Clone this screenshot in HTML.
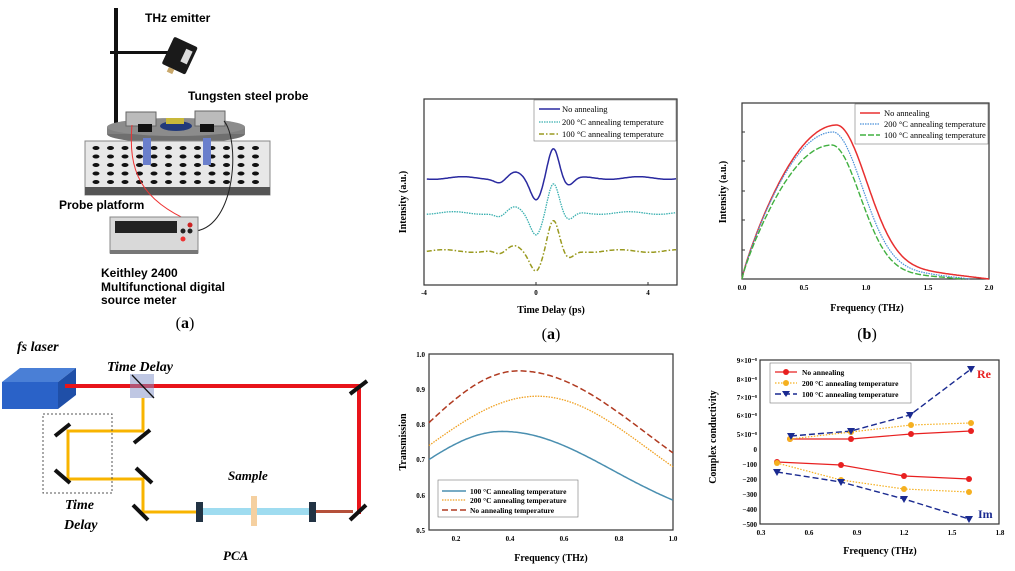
<!DOCTYPE html>
<html><head><meta charset="utf-8"><style>
html,body{margin:0;padding:0;background:#fff;}
svg{display:block;}
.s{font-family:"Liberation Sans",sans-serif;font-weight:bold;}
.r{font-family:"Liberation Serif",serif;}
</style></head><body>
<svg id="sv" width="1015" height="571" viewBox="0 0 1015 571" xmlns="http://www.w3.org/2000/svg">
<!-- ===== Top-left diagram ===== -->
<g>
<rect x="114" y="8" width="4" height="130" fill="#111"/>
<rect x="110" y="51" width="60" height="3" fill="#111"/>
<g transform="rotate(25 178 57)"><rect x="166" y="40" width="26" height="30" rx="2" fill="#1a1a1a"/><rect x="182" y="46" width="7" height="14" fill="#ddd"/><rect x="174" y="70" width="6" height="5" fill="#c9a86b"/></g>
<text class="s" x="145" y="22" font-size="12">THz emitter</text>
<text class="s" x="188" y="100" font-size="12">Tungsten steel probe</text>
<ellipse cx="176" cy="134" rx="69" ry="9" fill="#6f6f6f"/>
<rect x="107" y="127" width="138" height="7" fill="#808080"/>
<ellipse cx="176" cy="127" rx="69" ry="9" fill="#8c8c8c"/>
<rect x="85" y="141" width="185" height="54" fill="#e8e8e8" stroke="#888"/>
<rect x="85" y="187" width="185" height="8" fill="#555"/>
<g id="holes"></g>
<rect x="143" y="138" width="8" height="27" fill="#6a7fcc"/>
<rect x="203" y="138" width="8" height="27" fill="#6a7fcc"/>
<rect x="126" y="112" width="30" height="14" fill="#bbb" stroke="#666"/>
<rect x="195" y="111" width="30" height="15" fill="#bbb" stroke="#666"/>
<rect x="138" y="124" width="14" height="8" fill="#111"/>
<rect x="200" y="124" width="14" height="8" fill="#111"/>
<ellipse cx="176" cy="126" rx="16" ry="5" fill="#223a7a"/>
<rect x="166" y="118" width="18" height="6" fill="#c8b83a"/>
<path d="M132 125 C128 170,140 200,192 222" stroke="#e33" fill="none" stroke-width="1"/>
<path d="M224 121 C240 140,236 225,196 231" stroke="#222" fill="none" stroke-width="1"/>
<text class="s" x="59" y="209" font-size="12">Probe platform</text>
<rect x="110" y="217" width="88" height="36" fill="#d9d9d9" stroke="#888"/>
<rect x="115" y="221" width="62" height="12" fill="#222"/>
<rect x="110" y="250" width="88" height="4" fill="#777"/>
<circle cx="190" cy="225" r="2.5" fill="#c22"/><circle cx="190" cy="231" r="2.5" fill="#222"/><circle cx="183" cy="231" r="2.5" fill="#222"/><circle cx="183" cy="239" r="2.5" fill="#e33"/>
<text class="s" x="101" y="277" font-size="12">Keithley 2400</text>
<text class="s" x="101" y="291" font-size="12">Multifunctional digital</text>
<text class="s" x="101" y="304" font-size="12">source meter</text>
<text class="r" x="185" y="328" font-size="16" text-anchor="middle">(<tspan font-weight="bold">a</tspan>)</text>
</g>
<!-- ===== Bottom-left optics ===== -->
<g>
<text class="r" x="17" y="351" font-size="14" font-weight="bold" font-style="italic">fs laser</text>
<polygon points="2,382 20,368 76,368 58,382" fill="#4a7fd6"/>
<polygon points="58,382 76,368 76,395 58,409" fill="#1f4fa8"/>
<rect x="2" y="382" width="56" height="27" fill="#2a62c8"/>
<rect x="65" y="384" width="295" height="4" fill="#e8141a"/>
<rect x="357" y="384" width="4" height="130" fill="#e8141a"/>
<rect x="130" y="374" width="24" height="24" fill="#8090c8" opacity="0.5"/>
<line x1="132" y1="375" x2="154" y2="398" stroke="#111" stroke-width="1.3"/>
<text class="r" x="107" y="371" font-size="14" font-weight="bold" font-style="italic">Time Delay</text>
<path d="M143 398 V431 H68 V479 H143 V512 H198" stroke="#f8b400" stroke-width="3" fill="none"/>
<rect x="43" y="414" width="69" height="79" fill="none" stroke="#555" stroke-dasharray="2,2"/>
<g stroke="#111" stroke-width="4">
<line x1="55" y1="436" x2="70" y2="424"/><line x1="55" y1="470" x2="70" y2="483"/>
<line x1="134" y1="443" x2="150" y2="430"/><line x1="136" y1="468" x2="152" y2="483"/>
<line x1="133" y1="505" x2="148" y2="520"/>
<line x1="350" y1="394" x2="367" y2="381"/><line x1="350" y1="520" x2="366" y2="505"/>
</g>
<text class="r" x="65" y="509" font-size="14" font-weight="bold" font-style="italic">Time</text>
<text class="r" x="64" y="529" font-size="14" font-weight="bold" font-style="italic">Delay</text>
<rect x="203" y="508" width="107" height="7" fill="#9fdcf0"/>
<rect x="313" y="510" width="40" height="3" fill="#b5503a"/>
<rect x="196" y="502" width="7" height="20" fill="#234"/>
<rect x="309" y="502" width="7" height="20" fill="#234"/>
<rect x="251" y="496" width="6" height="30" fill="#f5d0a0"/>
<text class="r" x="228" y="480" font-size="13" font-weight="bold" font-style="italic">Sample</text>
<text class="r" x="223" y="560" font-size="13" font-weight="bold" font-style="italic">PCA</text>
</g>
<!-- ===== Chart (a) time domain ===== -->
<g>
<rect x="424" y="99" width="253" height="186" fill="none" stroke="#333" stroke-width="1.2"/>
<g class="r" font-size="7" font-weight="bold" text-anchor="middle"><text x="424" y="295">-4</text><text x="536" y="295">0</text><text x="648" y="295">4</text></g>
<line x1="536" y1="285" x2="536" y2="282" stroke="#333"/><line x1="648" y1="285" x2="648" y2="282" stroke="#333"/>
<path id="pa1" fill="none" stroke="#2a2aa0" stroke-width="1.5"/>
<path id="pa2" fill="none" stroke="#3ab0b0" stroke-width="1.3" stroke-dasharray="1.5,1"/>
<path id="pa3" fill="none" stroke="#9a9a20" stroke-width="1.5" stroke-dasharray="5,2,1.5,2"/>
<rect x="534" y="100" width="142" height="41" fill="#fff" stroke="#777" stroke-width="0.6"/>
<line x1="539" y1="109" x2="560" y2="109" stroke="#2a2aa0" stroke-width="1.5"/>
<line x1="539" y1="122" x2="560" y2="122" stroke="#3ab0b0" stroke-width="1.3" stroke-dasharray="1.5,1"/>
<line x1="539" y1="134" x2="560" y2="134" stroke="#9a9a20" stroke-width="1.5" stroke-dasharray="5,2,1.5,2"/>
<g class="r" font-size="8.5"><text x="562" y="112">No annealing</text><text x="562" y="125">200 °C annealing temperature</text><text x="562" y="137">100 °C annealing temperature</text></g>
<text class="r" x="551" y="313" font-size="10" font-weight="bold" text-anchor="middle">Time Delay (ps)</text>
<text class="r" transform="translate(406 202) rotate(-90)" font-size="10" font-weight="bold" text-anchor="middle">Intensity (a.u.)</text>
<text class="r" x="551" y="339" font-size="16" text-anchor="middle">(<tspan font-weight="bold">a</tspan>)</text>
</g>
<!-- ===== Chart (b) spectrum ===== -->
<g>
<rect x="742" y="103" width="247" height="176" fill="none" stroke="#333" stroke-width="1.2"/>
<g stroke="#333"><line x1="742" y1="132" x2="745" y2="132"/><line x1="742" y1="161" x2="745" y2="161"/><line x1="742" y1="191" x2="745" y2="191"/><line x1="742" y1="220" x2="745" y2="220"/><line x1="742" y1="250" x2="745" y2="250"/></g>
<g class="r" font-size="7" font-weight="bold" text-anchor="middle"><text x="742" y="290">0.0</text><text x="804" y="290">0.5</text><text x="866" y="290">1.0</text><text x="928" y="290">1.5</text><text x="989" y="290">2.0</text></g>
<path id="pb1" fill="none" stroke="#e83030" stroke-width="1.5"/>
<path id="pb2" fill="none" stroke="#4a90d9" stroke-width="1.2" stroke-dasharray="1.5,1"/>
<path id="pb3" fill="none" stroke="#40b040" stroke-width="1.4" stroke-dasharray="6,2"/>
<rect x="855" y="104" width="133" height="40" fill="#fff" stroke="#777" stroke-width="0.6"/>
<line x1="860" y1="113" x2="880" y2="113" stroke="#e83030" stroke-width="1.5"/>
<line x1="860" y1="124" x2="880" y2="124" stroke="#4a90d9" stroke-width="1.2" stroke-dasharray="1.5,1"/>
<line x1="860" y1="135" x2="880" y2="135" stroke="#40b040" stroke-width="1.4" stroke-dasharray="6,2"/>
<g class="r" font-size="8.5"><text x="884" y="116">No annealing</text><text x="884" y="127">200 °C annealing temperature</text><text x="884" y="138">100 °C annealing temperature</text></g>
<text class="r" x="867" y="311" font-size="10" font-weight="bold" text-anchor="middle">Frequency (THz)</text>
<text class="r" transform="translate(726 192) rotate(-90)" font-size="10" font-weight="bold" text-anchor="middle">Intensity (a.u.)</text>
<text class="r" x="867" y="339" font-size="16" text-anchor="middle">(<tspan font-weight="bold">b</tspan>)</text>
</g>
<!-- ===== Transmission ===== -->
<g>
<rect x="429" y="354" width="244" height="176" fill="none" stroke="#333" stroke-width="1.2"/>
<g class="r" font-size="7" font-weight="bold" text-anchor="end"><text x="425" y="357">1.0</text><text x="425" y="392">0.9</text><text x="425" y="427">0.8</text><text x="425" y="462">0.7</text><text x="425" y="498">0.6</text><text x="425" y="533">0.5</text></g>
<g class="r" font-size="7" font-weight="bold" text-anchor="middle"><text x="456" y="541">0.2</text><text x="510" y="541">0.4</text><text x="564" y="541">0.6</text><text x="619" y="541">0.8</text><text x="673" y="541">1.0</text></g>
<path id="pt1" fill="none" stroke="#4a8fb0" stroke-width="1.5"/>
<path id="pt2" fill="none" stroke="#f0a020" stroke-width="1.3" stroke-dasharray="1.5,1.2"/>
<path id="pt3" fill="none" stroke="#b03a20" stroke-width="1.5" stroke-dasharray="6,3"/>
<rect x="438" y="480" width="140" height="37" fill="#fff" stroke="#777" stroke-width="0.6"/>
<line x1="442" y1="491" x2="466" y2="491" stroke="#4a8fb0" stroke-width="1.5"/>
<line x1="442" y1="500" x2="466" y2="500" stroke="#f0a020" stroke-width="1.3" stroke-dasharray="1.5,1.2"/>
<line x1="442" y1="510" x2="466" y2="510" stroke="#b03a20" stroke-width="1.5" stroke-dasharray="6,3"/>
<g class="r" font-size="7.5" font-weight="bold"><text x="470" y="494">100 °C annealing temperature</text><text x="470" y="503">200 °C annealing temperature</text><text x="470" y="513">No annealing temperature</text></g>
<text class="r" x="551" y="561" font-size="10" font-weight="bold" text-anchor="middle">Frequency (THz)</text>
<text class="r" transform="translate(406 442) rotate(-90)" font-size="10" font-weight="bold" text-anchor="middle">Transmission</text>
</g>
<!-- ===== Conductivity ===== -->
<g>
<rect x="760" y="360" width="239" height="164" fill="none" stroke="#333" stroke-width="1.2"/>
<g class="r" font-size="7" font-weight="bold" text-anchor="end">
<text x="757" y="363">9×10⁻⁸</text><text x="757" y="382">8×10⁻⁸</text><text x="757" y="400">7×10⁻⁸</text><text x="757" y="418">6×10⁻⁸</text><text x="757" y="437">5×10⁻⁸</text><text x="757" y="452">0</text><text x="757" y="467">−100</text><text x="757" y="482">−200</text><text x="757" y="497">−300</text><text x="757" y="512">−400</text><text x="757" y="527">−500</text></g>
<g class="r" font-size="7" font-weight="bold" text-anchor="middle"><text x="761" y="535">0.3</text><text x="809" y="535">0.6</text><text x="857" y="535">0.9</text><text x="904" y="535">1.2</text><text x="952" y="535">1.5</text><text x="1000" y="535">1.8</text></g>
<g fill="none">
<polyline points="790,439 851,439 911,434 971,431" stroke="#e82020" stroke-width="1.2"/>
<polyline points="790,439 851,432 911,425 971,423" stroke="#f5b020" stroke-width="1.2" stroke-dasharray="1.5,1.5"/>
<polyline points="791,436 851,431 910,415 971,369" stroke="#1a2a90" stroke-width="1.4" stroke-dasharray="6,3"/>
<polyline points="777,462 841,465 904,476 969,479" stroke="#e82020" stroke-width="1.2"/>
<polyline points="777,463 841,480 904,489 969,492" stroke="#f5b020" stroke-width="1.2" stroke-dasharray="1.5,1.5"/>
<polyline points="777,472 841,482 904,499 969,519" stroke="#1a2a90" stroke-width="1.4" stroke-dasharray="6,3"/>
</g>
<g fill="#e82020"><circle cx="790" cy="439" r="3"/><circle cx="851" cy="439" r="3"/><circle cx="911" cy="434" r="3"/><circle cx="971" cy="431" r="3"/><circle cx="777" cy="462" r="3"/><circle cx="841" cy="465" r="3"/><circle cx="904" cy="476" r="3"/><circle cx="969" cy="479" r="3"/></g>
<g fill="#f5b020"><circle cx="790" cy="439" r="3"/><circle cx="851" cy="432" r="3"/><circle cx="911" cy="425" r="3"/><circle cx="971" cy="423" r="3"/><circle cx="777" cy="463" r="3"/><circle cx="841" cy="480" r="3"/><circle cx="904" cy="489" r="3"/><circle cx="969" cy="492" r="3"/></g>
<g id="tri" fill="#1a2a90"></g>
<rect x="770" y="363" width="141" height="40" fill="#fff" stroke="#777" stroke-width="0.6"/>
<line x1="775" y1="372" x2="797" y2="372" stroke="#e82020" stroke-width="1.2"/><circle cx="786" cy="372" r="3" fill="#e82020"/>
<line x1="775" y1="383" x2="797" y2="383" stroke="#f5b020" stroke-width="1.2" stroke-dasharray="1.5,1.5"/><circle cx="786" cy="383" r="3" fill="#f5b020"/>
<line x1="775" y1="394" x2="797" y2="394" stroke="#1a2a90" stroke-width="1.4" stroke-dasharray="6,3"/><polygon points="782,391 790,391 786,397" fill="#1a2a90"/>
<g class="r" font-size="7.5" font-weight="bold"><text x="802" y="375">No annealing</text><text x="802" y="386">200 °C annealing temperature</text><text x="802" y="397">100 °C annealing temperature</text></g>
<text class="r" x="977" y="378" font-size="12" font-weight="bold" fill="#e82020">Re</text>
<text class="r" x="978" y="518" font-size="12" font-weight="bold" fill="#1a2a90">Im</text>
<text class="r" x="880" y="554" font-size="10" font-weight="bold" text-anchor="middle">Frequency (THz)</text>
<text class="r" transform="translate(716 437) rotate(-90)" font-size="10" font-weight="bold" text-anchor="middle">Complex conductivity</text>
</g>
</svg>
<script>
function P(id,f,a,b,n){var d='';for(var i=0;i<=n;i++){var t=a+(b-a)*i/n;var p=f(t);d+=(i?'L':'M')+p[0].toFixed(1)+' '+p[1].toFixed(1);}document.getElementById(id).setAttribute('d',d);}
function G(t,c,w){return Math.exp(-Math.pow((t-c)/w,2));}
function pulse(base,pk,mn,ph){return function(t){var y=base-pk*G(t,0.62,0.28)+mn*G(t,0.0,0.3)-5*G(t,-0.75,0.3)+4*G(t,-1.3,0.25)+8*G(t,1.15,0.28)+1.3*Math.sin(3*t+ph);return [536+28*t,y];};}
P('pa1',pulse(178,31,22,0),-3.9,5,300);
P('pa2',pulse(213,30,21,1),-3.9,5,300);
P('pa3',pulse(251,30,19,2),-3.9,5,300);
function spec(pk,np,w,tail,end){return function(v){var f;if(v<np)f=Math.pow(Math.sin(Math.PI/2*v/np),0.85);else f=(1-tail)*G(v,np,w)+tail*Math.max(0,(end-v)/(end-np));return [742+123.5*v,279-pk*f];};}
P('pb1',spec(154,0.77,0.34,0.12,2.0),0,2,200);
P('pb2',spec(147,0.74,0.33,0.11,1.85),0,1.85,200);
P('pb3',spec(134,0.73,0.32,0.08,1.8),0,1.8,200);
function tr(pk,np,wl,wr){return function(v){var w=v<np?wl:wr;var T=0.5+(pk-0.5)*G(v,np,w);return [429+271*(v-0.1),530-352*(T-0.5)];};}
P('pt1',tr(0.78,0.37,0.466,0.577),0.1,1,150);
P('pt2',tr(0.88,0.5,0.59,0.578),0.1,1,150);
P('pt3',tr(0.952,0.43,0.526,0.67),0.1,1,150);
var h='';for(var r=0;r<5;r++)for(var c=0;c<12;c++){h+='<ellipse cx="'+(96+c*14.5)+'" cy="'+(148+r*8.5)+'" rx="3.5" ry="2" fill="#111"/>';}
document.getElementById('holes').innerHTML=h;
var tp=[[791,436],[851,431],[910,415],[971,369],[777,472],[841,482],[904,499],[969,519]],s='';
tp.forEach(function(p){s+='<polygon points="'+(p[0]-4)+','+(p[1]-3)+' '+(p[0]+4)+','+(p[1]-3)+' '+p[0]+','+(p[1]+4)+'"/>';});
document.getElementById('tri').innerHTML=s;
</script>
</body></html>
